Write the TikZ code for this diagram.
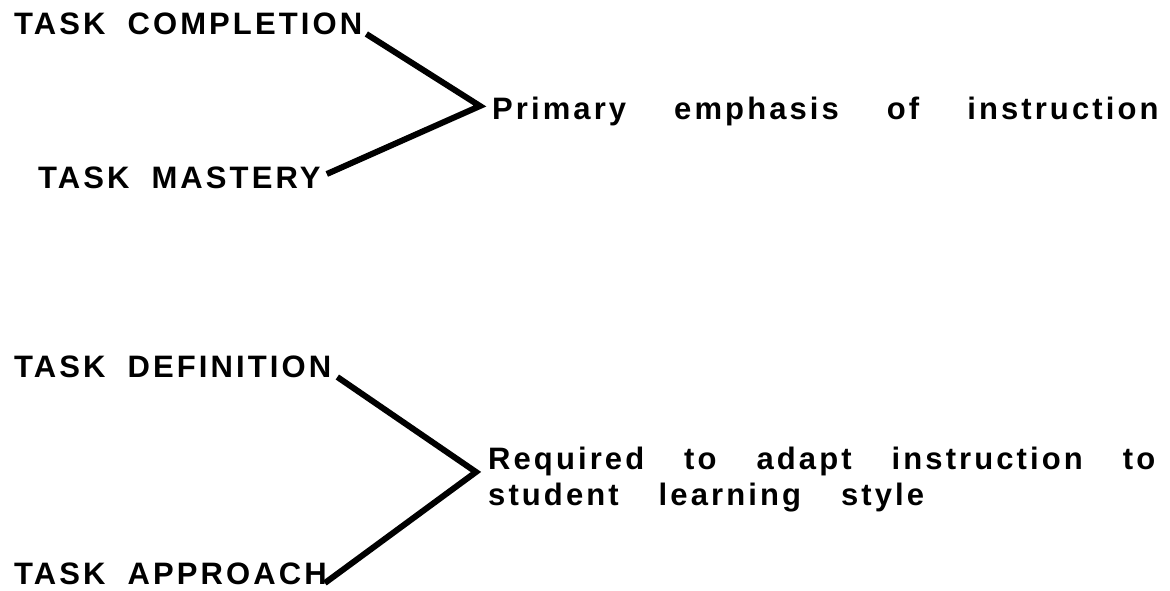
\documentclass[tikz,border=0pt]{standalone}
\usepackage{fontspec}
\setmainfont{Liberation Sans}
\newfontfamily\typefont[LetterSpace=10]{Liberation Sans}
\newcommand\labelfont{\typefont\bfseries\fontsize{31}{36}\selectfont\spaceskip=22pt\relax}
\newcommand\notefont[1]{\typefont\bfseries\fontsize{31}{36}\selectfont\spaceskip=#1\relax}
\usetikzlibrary{calc}

\begin{document}
\begin{tikzpicture}[x=1pt, y=-1pt, lbl/.style={anchor=base west, inner sep=0pt, font=\labelfont}, txt/.style={lbl, align=left, font=\notefont{#1}}, txt/.default=40pt, brace/.style={line width=6pt, line join=miter, line cap=butt}]
\useasboundingbox (0,0) rectangle (1170,590);
% upper pair
\node[lbl] (tcomp) at (14,34) {TASK COMPLETION};
\node[lbl] (tmast) at (38,188) {TASK MASTERY};
\coordinate (apex1) at (480,106);
\node[txt=48pt] (primary) at (492,119) {Primary emphasis of instruction};
\draw[brace] ($(tcomp.base east)+(4,0)$) -- (apex1) -- ($(tmast.base east)+(6,-14)$);
% lower pair
\node[lbl] (tdef) at (14,377) {TASK DEFINITION};
\node[lbl] (tappr) at (14,584) {TASK APPROACH};
\coordinate (apex2) at (476,472);
\node[txt, anchor=north west] (required) at (488,447) {Required to adapt instruction to\\student learning style};
\draw[brace] ($(tdef.base east)+(6,0)$) -- (apex2) -- ($(tappr.base east)+(-2,-1)$);
\end{tikzpicture}
\end{document}
